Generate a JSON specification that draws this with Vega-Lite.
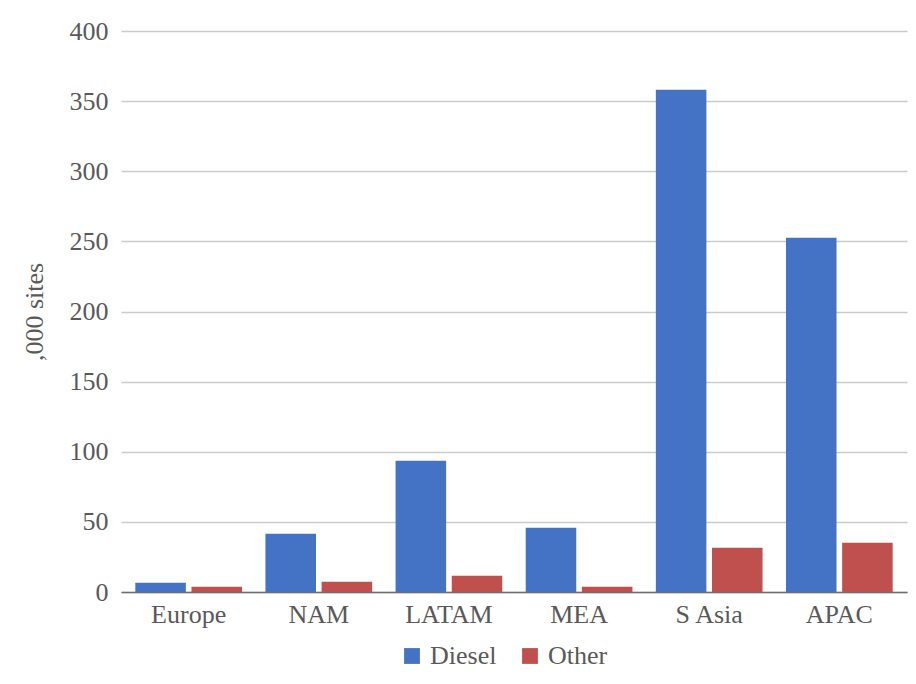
{
  "$schema": "https://vega.github.io/schema/vega-lite/v6.json",
  "width": 786,
  "height": 561,
  "autosize": "none",
  "padding": {"left": 121, "top": 31, "right": 9, "bottom": 92},
  "background": "white",
  "data": {
    "values": [
      {"region": "Europe", "fuel": "Diesel", "sites": 6.6},
      {"region": "Europe", "fuel": "Other", "sites": 3.8},
      {"region": "NAM", "fuel": "Diesel", "sites": 41.6},
      {"region": "NAM", "fuel": "Other", "sites": 7.3},
      {"region": "LATAM", "fuel": "Diesel", "sites": 93.6},
      {"region": "LATAM", "fuel": "Other", "sites": 11.6},
      {"region": "MEA", "fuel": "Diesel", "sites": 45.9},
      {"region": "MEA", "fuel": "Other", "sites": 3.8},
      {"region": "S Asia", "fuel": "Diesel", "sites": 358.1},
      {"region": "S Asia", "fuel": "Other", "sites": 31.6},
      {"region": "APAC", "fuel": "Diesel", "sites": 252.6},
      {"region": "APAC", "fuel": "Other", "sites": 35.1}
    ]
  },
  "mark": {"type": "bar"},
  "encoding": {
    "x": {
      "field": "region",
      "type": "nominal",
      "sort": ["Europe", "NAM", "LATAM", "MEA", "S Asia", "APAC"],
      "scale": {"paddingInner": 0.18, "paddingOuter": 0.11},
      "axis": {
        "title": null,
        "labelAngle": 0,
        "ticks": false,
        "domainColor": "#6e6e6e",
        "domainWidth": 1.5,
        "labelPadding": 9,
        "grid": false
      }
    },
    "xOffset": {
      "field": "fuel",
      "type": "nominal",
      "sort": ["Diesel", "Other"],
      "scale": {"paddingInner": 0.1, "paddingOuter": 0}
    },
    "y": {
      "field": "sites",
      "type": "quantitative",
      "scale": {"domain": [0, 400], "nice": false},
      "axis": {
        "title": ",000 sites",
        "values": [0, 50, 100, 150, 200, 250, 300, 350, 400],
        "ticks": false,
        "domain": false,
        "labelPadding": 13,
        "titlePadding": 22,
        "gridColor": "#cbcbcb",
        "gridWidth": 1.3
      }
    },
    "color": {
      "field": "fuel",
      "type": "nominal",
      "sort": ["Diesel", "Other"],
      "scale": {"domain": ["Diesel", "Other"], "range": ["#4472C4", "#C0504D"]},
      "legend": {
        "title": null,
        "orient": "none",
        "direction": "horizontal",
        "legendX": 278,
        "legendY": 612,
        "symbolType": "square",
        "symbolSize": 250,
        "symbolStrokeWidth": 0,
        "symbolOpacity": 1,
        "labelFont": "Liberation Serif",
        "labelFontSize": 26,
        "labelColor": "#595959",
        "labelOffset": 5,
        "columnPadding": 20,
        "padding": 0
      }
    }
  },
  "config": {
    "view": {"stroke": null},
    "font": "Liberation Serif",
    "axis": {
      "labelFont": "Liberation Serif",
      "titleFont": "Liberation Serif",
      "labelFontSize": 26,
      "titleFontSize": 26,
      "labelColor": "#595959",
      "titleColor": "#595959",
      "titleFontWeight": "normal"
    }
  }
}
